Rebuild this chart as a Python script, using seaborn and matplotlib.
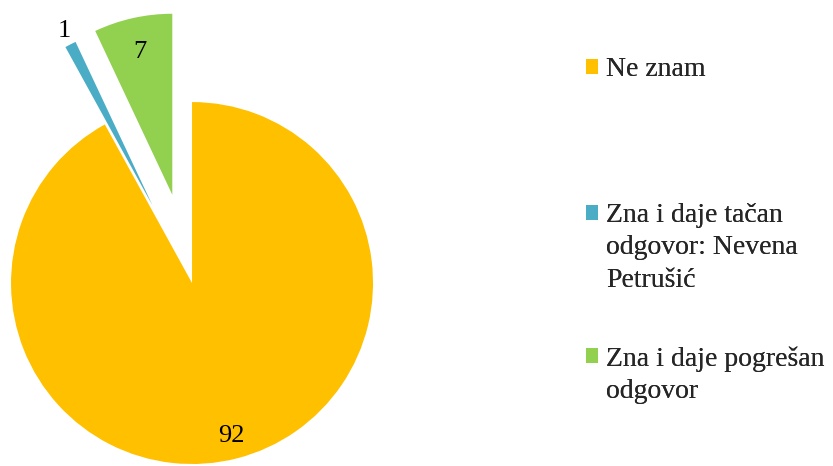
import numpy as np
import matplotlib
matplotlib.use("Agg")
import matplotlib.pyplot as plt
from matplotlib.patches import Patch
import seaborn as sns

# podaci
categories = ["Ne znam", "Zna i daje tačan\nodgovor: Nevena\nPetrušić", "Zna i daje pogrešan\nodgovor"]
values = [92, 1, 7]
colors = ["#FFC000", "#4BACC6", "#92D050"]
explode = [0, 0.48, 0.5]
label_dist = [0.87, 1.08, 0.81]

sns.set_theme(style="white")
plt.rcParams["font.family"] = ["Liberation Serif", "DejaVu Serif"]

fig = plt.figure(figsize=(8.33, 4.66), dpi=100)
ax = fig.add_axes([0, 0, 400 / 833, 1])

wedges, _ = ax.pie(values, colors=colors, explode=explode, startangle=90,
                   counterclock=False, radius=1, wedgeprops=dict(linewidth=0))

# brojevi na isecima
for w, v, d in zip(wedges, values, label_dist):
    ang = np.deg2rad((w.theta1 + w.theta2) / 2)
    cx, cy = w.center
    ax.text(cx + d * w.r * np.cos(ang), cy + d * w.r * np.sin(ang), str(v),
            ha="center", va="center", fontsize=19, color="black")

ax.set_xlim(-1.061, 1.149)
ax.set_ylim(-1.011, 1.564)
ax.set_aspect("auto")
ax.axis("off")

# legenda - svaka stavka posebno, kvadrat uz prvi red teksta
tops = [0.907, 0.594, 0.287]
blank = Patch(facecolor="none", edgecolor="none")
for w, lab, top in zip(wedges, categories, tops):
    lines = lab.split("\n")
    handles = [w] + [blank] * (len(lines) - 1)
    leg = fig.legend(handles, lines, loc="upper left", bbox_to_anchor=(572 / 833, top),
                     frameon=False, fontsize=20, handlelength=0.44, handleheight=0.44,
                     handletextpad=0.3, borderpad=0, labelspacing=0.26)
    fig.add_artist(leg)

fig.savefig("out.png", dpi=100)
